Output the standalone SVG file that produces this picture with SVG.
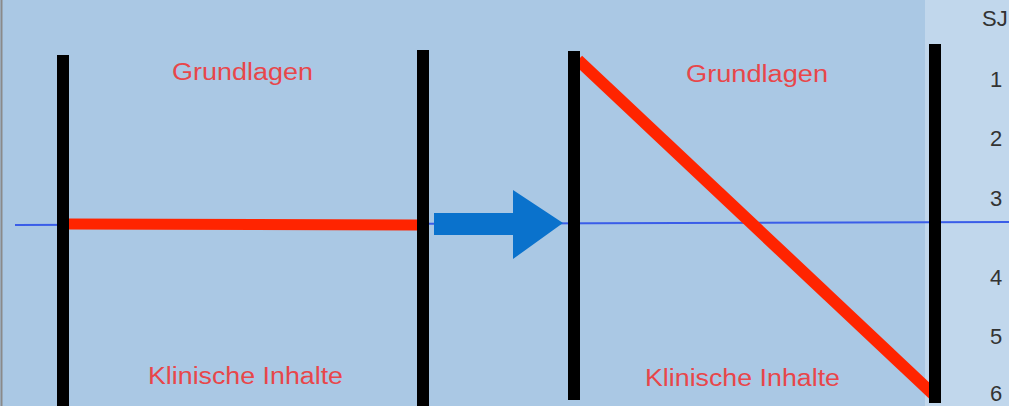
<svg xmlns="http://www.w3.org/2000/svg" width="1009" height="406" viewBox="0 0 1009 406">
<style>
.bar{fill:#000}
.lbl{font-family:"Liberation Sans",Arial,sans-serif;font-size:23px;fill:#e8464a}
.num{font-family:"Liberation Sans",Arial,sans-serif;font-size:22px;fill:#333}
.red{stroke:#ff2400;fill:none}
</style>
<rect x="0" y="0" width="1009" height="406" fill="#aac8e4"/>
<rect x="925" y="0" width="84" height="406" fill="#c1d7ec"/>
<line x1="1.5" y1="0" x2="1.5" y2="406" stroke="#8a8a8a" stroke-width="2"/>
<g id="connectors">
<line x1="15" y1="225" x2="1009" y2="222" stroke="#3a5de8" stroke-width="2"/>
<line class="red" x1="69" y1="224" x2="417" y2="225" stroke-width="11"/>
<line class="red" x1="578" y1="60" x2="935" y2="396" stroke-width="12"/>
<polygon id="arrow" points="434,213 513,213 513,190 563,223 513,259 513,235 434,235" fill="#0a72cc"/>
</g>
<g id="bar1"><rect class="bar" x="57" y="55" width="12" height="351"/></g>
<g id="bar2"><rect class="bar" x="417" y="50" width="12" height="356"/></g>
<g id="bar3"><rect class="bar" x="568" y="51" width="12" height="349"/></g>
<g id="bar4"><rect class="bar" x="929" y="44" width="12" height="359"/></g>
<g id="labels-left">
<text class="lbl" x="172" y="80" textLength="141" lengthAdjust="spacingAndGlyphs">Grundlagen</text>
<text class="lbl" x="148" y="384" textLength="195" lengthAdjust="spacingAndGlyphs">Klinische Inhalte</text>
</g>
<g id="labels-right">
<text class="lbl" x="686" y="82" textLength="142" lengthAdjust="spacingAndGlyphs">Grundlagen</text>
<text class="lbl" x="645" y="386" textLength="195" lengthAdjust="spacingAndGlyphs">Klinische Inhalte</text>
</g>
<g id="scale">
<text class="num" x="982" y="26">SJ</text>
<text class="num" x="990" y="87">1</text>
<text class="num" x="990" y="146">2</text>
<text class="num" x="990" y="206">3</text>
<text class="num" x="990" y="285">4</text>
<text class="num" x="990" y="344">5</text>
<text class="num" x="990" y="401">6</text>
</g>
</svg>
